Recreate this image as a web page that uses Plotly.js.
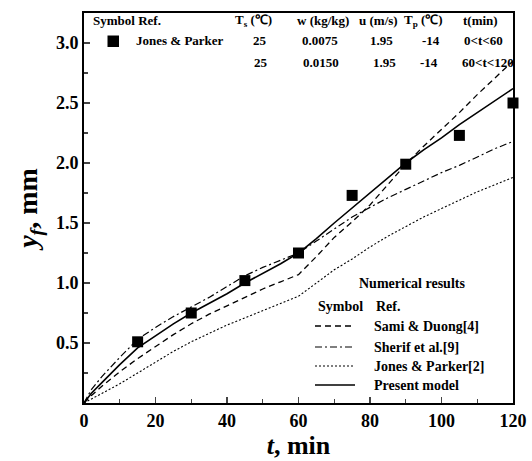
<!DOCTYPE html>
<html>
<head>
<meta charset="utf-8">
<script src="https://cdn.plot.ly/plotly-3.0.1.min.js"></script>
<style>html,body{margin:0;padding:0;background:#fff;}#chart{width:532px;height:461px;}</style>
</head>
<body>
<div id="chart"></div>
<script>
// ---- data ----
const tModel = [0, 2, 5, 10, 15, 20, 25, 30, 35, 40, 45, 50, 55, 60, 65, 70, 75, 80, 85, 90, 95, 100, 105, 110, 115, 120];
const presentModel = [0, 0.08, 0.17, 0.32, 0.46, 0.56, 0.66, 0.75, 0.83, 0.91, 1.00, 1.08, 1.16, 1.25, 1.37, 1.50, 1.625, 1.75, 1.875, 2.00, 2.11, 2.21, 2.32, 2.42, 2.52, 2.62];
const sherif = [0, 0.11, 0.22, 0.38, 0.53, 0.63, 0.72, 0.80, 0.88, 0.97, 1.06, 1.13, 1.19, 1.25, 1.35, 1.45, 1.55, 1.63, 1.71, 1.78, 1.85, 1.92, 1.98, 2.05, 2.12, 2.18];
const samiDuong = [0, 0.06, 0.14, 0.26, 0.37, 0.47, 0.57, 0.66, 0.74, 0.81, 0.88, 0.95, 1.01, 1.07, 1.22, 1.38, 1.51, 1.65, 1.82, 1.99, 2.14, 2.28, 2.42, 2.57, 2.71, 2.85];
const jonesParkerNum = [0, 0.03, 0.08, 0.16, 0.25, 0.34, 0.43, 0.51, 0.58, 0.65, 0.71, 0.77, 0.83, 0.89, 1.00, 1.11, 1.20, 1.30, 1.39, 1.47, 1.55, 1.62, 1.69, 1.76, 1.82, 1.88];
const tExp = [15, 30, 45, 60, 75, 90, 105, 120];
const yExp = [0.51, 0.75, 1.02, 1.25, 1.73, 1.99, 2.23, 2.50];

const xTicks = [0, 20, 40, 60, 80, 100, 120];
const yTicks = [0.5, 1.0, 1.5, 2.0, 2.5, 3.0];
const yTickText = ["0.5", "1.0", "1.5", "2.0", "2.5", "3.0"];

const headerLabels = ["T<sub>s</sub> (℃)", "w (kg/kg)", "u (m/s)", "T<sub>p</sub> (℃)", "t(min)"];
const row1Values = ["25", "0.0075", "1.95", "-14", "0<t<60"];
const row2Values = ["25", "0.0150", "1.95", "-14", "60<t<120"];
const numLegendNames = ["Sami & Duong[4]", "Sherif et al.[9]", "Jones & Parker[2]", "Present model"];

// ---- layout helpers (pixel -> paper) ----
const L = 84, R = 513, T = 13, B = 403;
const px = x => (x - L) / (R - L);
const py = y => (B - y) / (B - T);
const FONT = "Liberation Serif";

const traces = [
  {x: tModel, y: samiDuong, mode: 'lines', line: {color: '#000', width: 1.3, dash: '6px,4px'}, cliponaxis: false},
  {x: tModel, y: sherif, mode: 'lines', line: {color: '#000', width: 1.2, dash: '7px,3px,2px,3px'}, cliponaxis: false},
  {x: tModel, y: jonesParkerNum, mode: 'lines', line: {color: '#000', width: 1.1, dash: '2px,2px'}, cliponaxis: false},
  {x: tModel, y: presentModel, mode: 'lines', line: {color: '#000', width: 1.6}, cliponaxis: false},
  {x: tExp, y: yExp, mode: 'markers', marker: {symbol: 'square', size: 11, color: '#000'}, cliponaxis: false}
];

const ann = [];
ann.push({x: px(91), y: py(20), text: "<b>Symbol Ref.</b>", xanchor: 'left'});
const headerX = [253, 323, 378, 423, 480];
headerLabels.forEach((s, i) => ann.push({x: px(headerX[i]), y: py(20), text: "<b>" + s + "</b>"}));
ann.push({x: px(134), y: py(41), text: "<b>Jones & Parker</b>", xanchor: 'left'});
const r1X = [260, 320, 381, 431, 483];
row1Values.forEach((s, i) => ann.push({x: px(r1X[i]), y: py(41), text: "<b>" + s.replace(/</g, '&lt;') + "</b>"}));
const r2X = [261, 321, 384, 429, 488];
row2Values.forEach((s, i) => ann.push({x: px(r2X[i]), y: py(62), text: "<b>" + s.replace(/</g, '&lt;') + "</b>"}));

const lf = {family: FONT, size: 14, color: '#000'};
ann.push({x: px(412), y: py(283), text: "<b>Numerical results</b>", font: lf});
ann.push({x: px(316), y: py(306), text: "<b>Symbol</b>", xanchor: 'left', font: lf});
ann.push({x: px(374), y: py(306), text: "<b>Ref.</b>", xanchor: 'left', font: lf});
const legY = [326, 347, 366, 385];
numLegendNames.forEach((s, i) => ann.push({x: px(372), y: py(legY[i]), text: "<b>" + s + "</b>", xanchor: 'left', font: lf}));

ann.forEach(a => {
  a.xref = 'paper'; a.yref = 'paper'; a.showarrow = false;
  if (!a.xanchor) a.xanchor = 'center';
  a.yanchor = 'middle';
  if (!a.font) a.font = {family: FONT, size: 13, color: '#000'};
});

const dashes = ['6px,4px', '7px,3px,2px,3px', '2px,2px', 'solid'];
const widths = [1.3, 1.2, 1.1, 1.6];
const shapes = legY.map((y, i) => ({
  type: 'line', xref: 'paper', yref: 'paper',
  x0: px(315), x1: px(355), y0: py(y), y1: py(y),
  line: {color: '#000', width: widths[i], dash: dashes[i]}
}));
shapes.push({type: 'rect', xref: 'paper', yref: 'paper',
  x0: px(107.5), x1: px(119), y0: py(47), y1: py(35.5),
  fillcolor: '#000', line: {width: 0}});

const layout = {
  width: 532, height: 461,
  margin: {l: L, r: 532 - R, t: T, b: 461 - B},
  paper_bgcolor: '#fff', plot_bgcolor: '#fff',
  showlegend: false,
  font: {family: FONT, color: '#000'},
  xaxis: {
    range: [0, 120], tickvals: xTicks, ticks: 'inside', ticklen: 6, tickwidth: 1.5,
    minor: {dtick: 10, ticks: 'inside', ticklen: 4, tickwidth: 1.2},
    showline: true, linewidth: 2, linecolor: '#000', mirror: true,
    showgrid: false, zeroline: false,
    tickfont: {family: FONT, size: 18, weight: 'bold'},
    title: {text: "<b><i>t</i>, min</b>", font: {family: FONT, size: 26}, standoff: 2}
  },
  yaxis: {
    range: [0, 3.25], tickvals: yTicks, ticktext: yTickText, ticks: 'inside', ticklen: 6, tickwidth: 1.5,
    minor: {tickvals: [0.25, 0.75, 1.25, 1.75, 2.25, 2.75, 3.25], ticks: 'inside', ticklen: 4, tickwidth: 1.2},
    showline: true, linewidth: 2, linecolor: '#000', mirror: true,
    showgrid: false, zeroline: false,
    tickfont: {family: FONT, size: 18, weight: 'bold'},
    title: {text: "<b><i>y<sub>f</sub></i>, mm</b>", font: {family: FONT, size: 28}, standoff: 10}
  },
  annotations: ann,
  shapes: shapes
};

Plotly.newPlot('chart', traces, layout, {staticPlot: true, displayModeBar: false});
</script>
</body>
</html>
